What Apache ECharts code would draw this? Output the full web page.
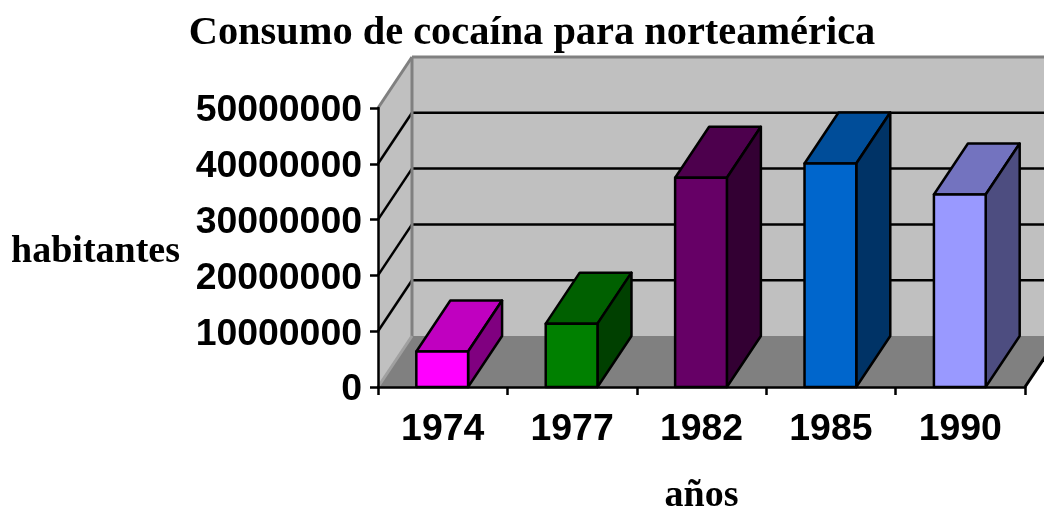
<!DOCTYPE html>
<html>
<head>
<meta charset="utf-8">
<title>Consumo de cocaína para norteamérica</title>
<style>
html, body { margin: 0; padding: 0; background: #fff; }
#container { width: 1044px; height: 508px; }
</style>
<script src="https://cdn.jsdelivr.net/npm/echarts@6/dist/echarts.min.js"></script>
</head>
<body>
<div id="container"></div>
<script>
var years = ['1974', '1977', '1982', '1985', '1990'];
var habitantes = [6350000, 11350000, 37500000, 40050000, 34500000];
var yTicks = [0, 10000000, 20000000, 30000000, 40000000, 50000000];

var frontColors = ['#ff00ff', '#008000', '#660066', '#0066cc', '#9999ff'];
var topColors = ['#c000c0', '#006000', '#4d004d', '#004d99', '#7373bf'];
var sideColors = ['#800080', '#004000', '#330033', '#003366', '#4d4d80'];

// depth of the fake 3d box
var depthX = 34;
var depthY = -51;

function poly(points, fill, z) {
	return {
		type : 'polygon',
		z2 : z || 0,
		shape : { points : points },
		style : { fill : fill, stroke : null }
	};
}

function seg(x1, y1, x2, y2, color, z, width) {
	return {
		type : 'line',
		z2 : z || 0,
		shape : { x1 : x1, y1 : y1, x2 : x2, y2 : y2 },
		style : { stroke : color, lineWidth : width || 2.5, fill : null }
	};
}

function renderWalls(params, api) {
	var r = params.coordSys;
	var left = r.x, right = r.x + r.width;
	var top = api.coord([0, yTicks[yTicks.length - 1]])[1];
	var bottom = api.coord([0, 0])[1];
	var children = [
		poly([[left, bottom], [left + depthX, bottom + depthY], [left + depthX, top + depthY], [left, top]], '#c0c0c0'),
		poly([[left + depthX, bottom + depthY], [right + depthX, bottom + depthY], [right + depthX, top + depthY], [left + depthX, top + depthY]], '#c0c0c0'),
		poly([[left, bottom], [left + depthX, bottom + depthY], [right + depthX, bottom + depthY], [right, bottom]], '#808080')
	];
	for (var i = 1; i < yTicks.length - 1; i++) {
		var y = api.coord([0, yTicks[i]])[1];
		children.push(seg(left, y, left + depthX, y + depthY, '#000', 2));
		children.push(seg(left + depthX, y + depthY, right + depthX, y + depthY, '#000', 2));
	}
	children.push(seg(left, top, left + depthX, top + depthY, '#808080', 3, 3));
	children.push(seg(left + depthX, top + depthY, right + depthX, top + depthY, '#808080', 3, 3));
	children.push(seg(left + depthX, top + depthY, left + depthX, bottom + depthY, '#808080', 3, 3));
	children.push(seg(left, bottom, left + depthX, bottom + depthY, '#a0a0a0', 3, 3));
	children.push(seg(right, bottom, right + depthX, bottom + depthY, '#000', 3, 3));
	return { type : 'group', children : children };
}

function renderBar(params, api) {
	var idx = params.dataIndex;
	var p = api.coord([idx, api.value(1)]);
	var base = api.coord([idx, 0]);
	var w = api.size([1, 0])[0] * 0.4;
	var x0 = p[0] - w / 2 - 0.5, x1 = p[0] + w / 2 - 0.5;
	var yt = p[1], yb = base[1];
	var line = { stroke : '#000', lineWidth : 2.5, lineJoin : 'round' };
	return {
		type : 'group',
		children : [ {
			type : 'polygon',
			shape : { points : [[x0, yt], [x1, yt], [x1 + depthX, yt + depthY], [x0 + depthX, yt + depthY]] },
			style : Object.assign({ fill : topColors[idx] }, line)
		}, {
			type : 'polygon',
			shape : { points : [[x1, yt], [x1 + depthX, yt + depthY], [x1 + depthX, yb + depthY], [x1, yb]] },
			style : Object.assign({ fill : sideColors[idx] }, line)
		}, {
			type : 'polygon',
			shape : { points : [[x0, yt], [x1, yt], [x1, yb], [x0, yb]] },
			style : Object.assign({ fill : frontColors[idx] }, line)
		} ]
	};
}

var axisFont = {
	fontFamily : '"Liberation Sans", Arial, sans-serif',
	fontWeight : 'bold',
	fontSize : 37.4,
	color : '#000'
};
var nameFont = {
	fontFamily : '"Liberation Serif", "Times New Roman", serif',
	fontWeight : 'bold',
	fontSize : 38,
	color : '#000'
};

var myChart = echarts.init(document.getElementById('container'));
myChart.setOption({
	animation : false,
	title : {
		text : 'Consumo de cocaína para norteamérica',
		left : 527,
		top : 9,
		textAlign : 'center',
		textStyle : {
			fontFamily : '"Liberation Serif", "Times New Roman", serif',
			fontWeight : 'bold',
			fontSize : 40.4,
			color : '#000'
		}
	},
	grid : {
		left : 378,
		right : 19,
		top : 108,
		bottom : 121,
		containLabel : false,
		outerBoundsMode : 'none'
	},
	xAxis : {
		type : 'category',
		data : years,
		z : 5,
		name : 'años',
		nameLocation : 'middle',
		nameGap : 90,
		nameTextStyle : nameFont,
		axisLine : { lineStyle : { color : '#000', width : 2.5 } },
		axisTick : { show : true, length : 8, lineStyle : { color : '#000', width : 2.5 } },
		axisLabel : Object.assign({ margin : 24 }, axisFont)
	},
	yAxis : {
		type : 'value',
		min : 0,
		max : 50000000,
		interval : 10000000,
		z : 5,
		name : 'habitantes',
		nameLocation : 'middle',
		nameRotate : 0,
		nameGap : 198,
		nameTextStyle : Object.assign({ verticalAlign : 'top', lineHeight : 10 }, nameFont),
		axisLine : { show : true, lineStyle : { color : '#000', width : 2.5 } },
		axisTick : { show : true, length : 8, lineStyle : { color : '#000', width : 2.5 } },
		axisLabel : Object.assign({
			margin : 16,
			verticalAlign : 'top',
			lineHeight : 6,
			formatter : function(v) { return String(v); }
		}, axisFont),
		splitLine : { show : false }
	},
	series : [ {
		type : 'custom',
		z : 1,
		silent : true,
		clip : false,
		renderItem : renderWalls,
		data : [ [ 0, 0 ] ]
	}, {
		type : 'custom',
		z : 2,
		clip : false,
		renderItem : renderBar,
		encode : { x : 0, y : 1 },
		data : years.map(function(y, i) { return [ i, habitantes[i] ]; })
	} ]
});
</script>
</body>
</html>
